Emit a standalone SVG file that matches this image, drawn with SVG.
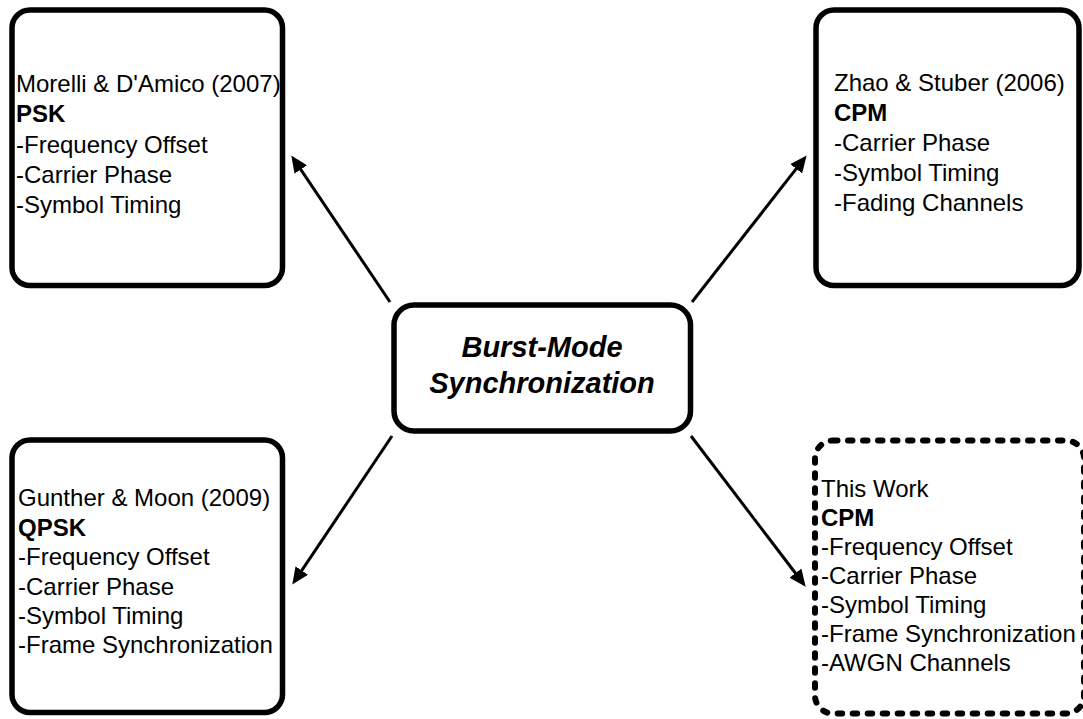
<svg xmlns="http://www.w3.org/2000/svg" width="1083" height="719" viewBox="0 0 1083 719">
<style>
.box{fill:#fff;stroke:#000;stroke-width:5.5}
.dash{fill:#fff;stroke:#000;stroke-width:6;stroke-dasharray:4.5 10.5;stroke-linecap:round}
.t{font-family:"Liberation Sans",Arial,sans-serif;font-size:24px;fill:#000}
.b{font-weight:bold}
.c{font-family:"Liberation Sans",Arial,sans-serif;font-size:29px;font-weight:bold;font-style:italic;fill:#000;text-anchor:middle}
.con{stroke:#000;stroke-width:3;fill:none}
</style>
<defs>
<marker id="ah" viewBox="0 0 17 15" refX="0.5" refY="7.5" markerWidth="17" markerHeight="15" markerUnits="userSpaceOnUse" orient="auto">
<path d="M0,0 L17,7.5 L0,15 z" fill="#000"/>
</marker>
</defs>
<rect width="1083" height="719" fill="#fff"/>
<g id="connectors">
<line class="con" x1="390" y1="302" x2="300.5" y2="169.1" marker-end="url(#ah)"/>
<line class="con" x1="692" y1="302" x2="796.5" y2="168.4" marker-end="url(#ah)"/>
<line class="con" x1="392" y1="436" x2="301.5" y2="570.9" marker-end="url(#ah)"/>
<line class="con" x1="691" y1="436" x2="795.7" y2="573.5" marker-end="url(#ah)"/>
</g>
<g id="center">
<rect class="box" x="394" y="305" width="296.5" height="126" rx="20"/>
<text class="c" x="542" y="357">Burst-Mode</text>
<text class="c" x="542" y="393">Synchronization</text>
</g>
<g id="morelli">
<rect class="box" x="12" y="10" width="270.5" height="275.5" rx="18"/>
<text class="t" x="16" y="92">Morelli &amp; D'Amico (2007)</text>
<text class="t b" x="16" y="122">PSK</text>
<text class="t" x="16" y="152.5">-Frequency Offset</text>
<text class="t" x="16" y="183">-Carrier Phase</text>
<text class="t" x="16" y="213">-Symbol Timing</text>
</g>
<g id="zhao">
<rect class="box" x="816" y="10" width="263" height="275.5" rx="18"/>
<text class="t" x="834" y="91">Zhao &amp; Stuber (2006)</text>
<text class="t b" x="834" y="121">CPM</text>
<text class="t" x="834" y="151">-Carrier Phase</text>
<text class="t" x="834" y="181">-Symbol Timing</text>
<text class="t" x="834" y="211">-Fading Channels</text>
</g>
<g id="gunther">
<rect class="box" x="12" y="440" width="270.5" height="272.5" rx="18"/>
<text class="t" x="18" y="506">Gunther &amp; Moon (2009)</text>
<text class="t b" x="18" y="536">QPSK</text>
<text class="t" x="18" y="565">-Frequency Offset</text>
<text class="t" x="18" y="595">-Carrier Phase</text>
<text class="t" x="18" y="624">-Symbol Timing</text>
<text class="t" x="18" y="653">-Frame Synchronization</text>
</g>
<g id="thiswork">
<rect class="dash" x="815" y="440.5" width="269" height="273" rx="18"/>
<text class="t" x="821" y="497">This Work</text>
<text class="t b" x="821" y="526">CPM</text>
<text class="t" x="821" y="555">-Frequency Offset</text>
<text class="t" x="821" y="584">-Carrier Phase</text>
<text class="t" x="821" y="613">-Symbol Timing</text>
<text class="t" x="821" y="642">-Frame Synchronization</text>
<text class="t" x="821" y="671">-AWGN Channels</text>
</g>
</svg>
